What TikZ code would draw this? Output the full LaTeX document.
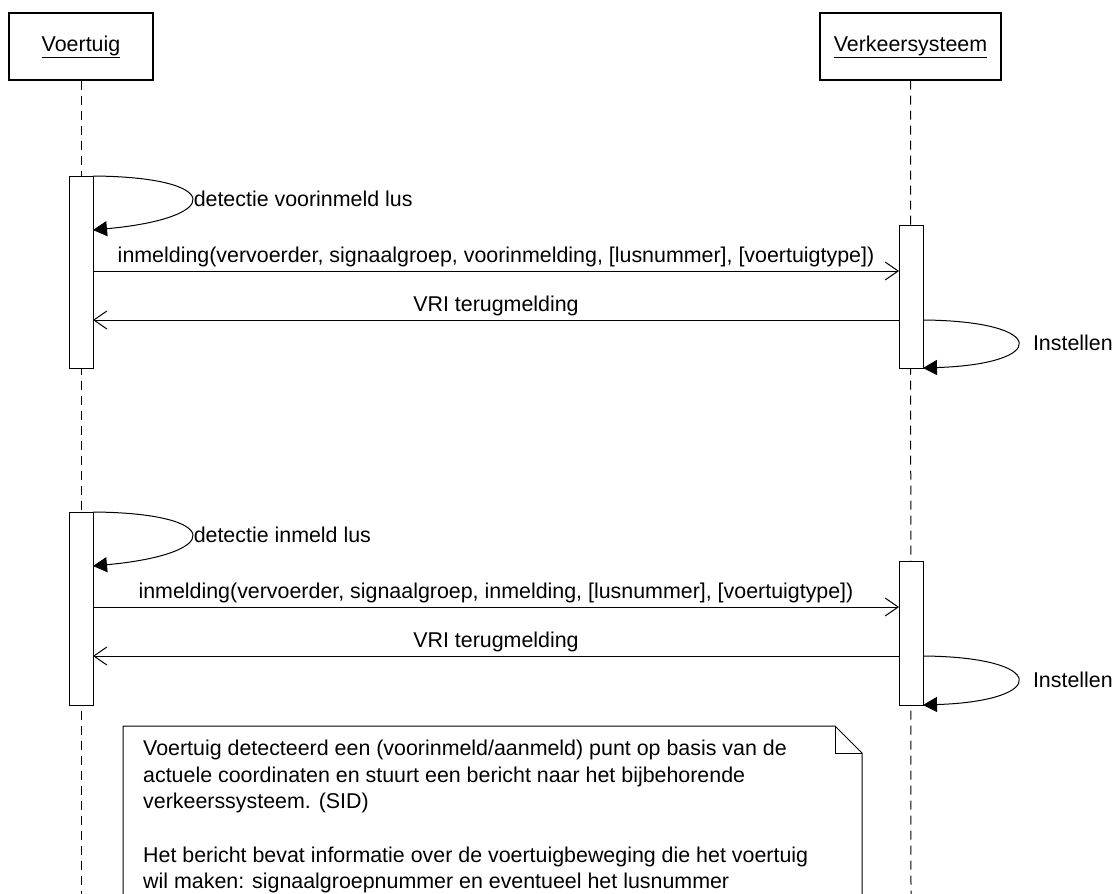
\documentclass[tikz,border=0pt]{standalone}
\usepackage{fontspec}
\setmainfont{Liberation Sans}
\usetikzlibrary{arrows.meta}
\begin{document}
\begin{tikzpicture}[x=1pt,y=-1pt,
  txt/.style={font=\fontsize{21.4}{26.6}\selectfont, inner sep=0pt},
  head/.style={draw, line width=1.1pt, fill=white, txt},
  lifeline/.style={line width=1pt, dash pattern=on 9pt off 6pt},
  act/.style={draw, line width=1pt, fill=white, minimum width=24pt, inner sep=0pt},
  msg/.style={line width=1pt, -{Straight Barb[length=13pt,width=18pt,line width=1pt]}},
  self/.style={line width=1pt, -{Triangle[length=14pt,width=15pt]}},
  mlabel/.style={txt, pos=0.5, anchor=base, yshift=9pt},
  notebox/.style={line width=1pt, fill=white}]
\useasboundingbox (0,0) rectangle (1114,894);
\clip (0,0) rectangle (1114,894);
\fill[white] (0,0) rectangle (1114,894);

% heads
\node[head, minimum width=144pt, minimum height=67pt] (v) at (81,46.5) {\underline{Voertuig}};
\node[head, minimum width=181pt, minimum height=67pt] (k) at (910.5,46.5) {\underline{Verkeersysteem}};
\coordinate (vend) at (81,900);
\coordinate (kend) at (911,900);
\draw[lifeline] (v.south) -- (vend);
\draw[lifeline] (k.south) -- (kend);

% activations
\node[act, minimum height=192pt] (va1) at (81,272) {};
\node[act, minimum height=143pt] (ka1) at (911,296.5) {};
\node[act, minimum height=193pt] (va2) at (81,608.5) {};
\node[act, minimum height=144pt] (ka2) at (911,633) {};

% block 1
\coordinate (s1a) at (93,176);
\coordinate (s1b) at (93,230);
\draw[self] (s1a) .. controls (224,177) and (224,218) .. (s1b)
  node[txt, pos=0.5, anchor=west, xshift=2pt] (l1) {detectie voorinmeld lus};
\coordinate (m1a) at (93,271);
\coordinate (m1b) at (899,271);
\draw[msg] (m1a) -- (m1b)
  node[mlabel] (l2) {inmelding(vervoerder, signaalgroep, voorinmelding, [lusnummer], [voertuigtype])};
\coordinate (r1a) at (899,320);
\coordinate (r1b) at (93,320);
\draw[msg] (r1a) -- (r1b) node[mlabel] (l3) {VRI terugmelding};
\coordinate (i1a) at (923,320);
\coordinate (i1b) at (923,368);
\draw[self] (i1a) .. controls (1049,321) and (1049,364) .. (i1b)
  node[txt, pos=0.5, anchor=west, xshift=15pt] (l4) {Instellen};

% block 2
\coordinate (s2a) at (93,512);
\coordinate (s2b) at (93,566);
\draw[self] (s2a) .. controls (224,513) and (224,554) .. (s2b)
  node[txt, pos=0.5, anchor=west, xshift=2pt] (l5) {detectie inmeld lus};
\coordinate (m2a) at (93,607);
\coordinate (m2b) at (899,607);
\draw[msg] (m2a) -- (m2b)
  node[mlabel] (l6) {inmelding(vervoerder, signaalgroep, inmelding, [lusnummer], [voertuigtype])};
\coordinate (r2a) at (899,656);
\coordinate (r2b) at (93,656);
\draw[msg] (r2a) -- (r2b) node[mlabel] (l7) {VRI terugmelding};
\coordinate (i2a) at (923,656);
\coordinate (i2b) at (923,705);
\draw[self] (i2a) .. controls (1049,657) and (1049,701) .. (i2b)
  node[txt, pos=0.5, anchor=west, xshift=15pt] (l8) {Instellen};

% note
\draw[notebox] (123,910) -- (123,726) -- (835,726) -- (862,753) -- (862,910);
\draw[line width=1pt] (835,726) -- (835,753) -- (862,753);
\node[txt, anchor=north west, align=left] (note) at (143,740)
  {Voertuig detecteerd een (voorinmeld/aanmeld) punt op basis van de\\
   actuele coordinaten en stuurt een bericht naar het bijbehorende\\
   verkeerssysteem. (SID)\\
   \strut\\
   Het bericht bevat informatie over de voertuigbeweging die het voertuig\\
   wil maken: signaalgroepnummer en eventueel het lusnummer};
\end{tikzpicture}
\end{document}
